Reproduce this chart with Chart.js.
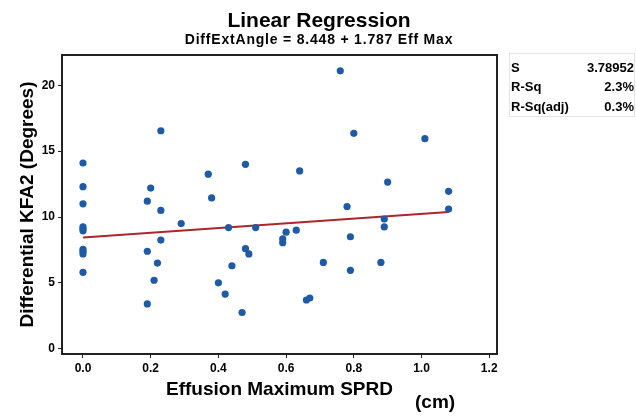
<!DOCTYPE html>
<html lang="en">
<head>
<meta charset="UTF-8">
<title>Linear Regression</title>
<script src="https://cdn.jsdelivr.net/npm/chart.js"></script>
<style>
    html, body { margin: 0; padding: 0; background: #fff; }
    #wrap { width: 636px; height: 417px; }
</style>
</head>
<body>
<div id="wrap"><canvas id="chart" width="636" height="417"></canvas></div>
<script>
// Effusion Maximum SPRD (cm)
const effMax = [
    0, 0, 0, 0, 0, 0, 0, 0, 0, 0,
    0.19, 0.19, 0.19, 0.20, 0.21, 0.22, 0.23, 0.23, 0.23, 0.29,
    0.37, 0.38, 0.40, 0.42, 0.43, 0.44, 0.47, 0.48, 0.48, 0.49,
    0.51, 0.59, 0.59, 0.60, 0.63, 0.64, 0.66, 0.67, 0.71, 0.76,
    0.78, 0.79, 0.79, 0.80, 0.88, 0.89, 0.89, 0.90, 1.01, 1.08, 1.08
];
// Differential KFA2 (degrees)
const diffAngle = [
    14.1, 12.3, 11.0, 9.25, 9.1, 8.95, 7.55, 7.4, 7.2, 5.8,
    11.2, 7.4, 3.4, 12.2, 5.2, 6.5, 16.55, 10.5, 8.25, 9.5,
    13.25, 11.45, 5.0, 4.15, 9.2, 6.3, 2.75, 14.0, 7.6, 7.2,
    9.2, 8.35, 8.05, 8.85, 9.0, 13.5, 3.7, 3.85, 6.55, 21.1,
    10.8, 8.5, 5.95, 16.35, 6.55, 9.85, 9.25, 12.65, 15.95, 11.95, 10.6
];

const intercept = 8.448;
const slope = 1.787;
const fitX = [0, 1.08];

const statLabels = ["S", "R-Sq", "R-Sq(adj)"];
const statValues = ["3.78952", "2.3%", "0.3%"];

const FONT = "'Liberation Sans', Arial, sans-serif";

// frame, titles, stats box and the loose "(cm)" label
const extras = {
    id: 'extras',
    beforeDatasetsDraw(chart) {
        const { ctx, chartArea: a } = chart;
        ctx.save();
        ctx.strokeStyle = '#222';
        ctx.lineWidth = 2;
        ctx.strokeRect(a.left, a.top, a.right - a.left, a.bottom - a.top);
        ctx.restore();
    },
    afterDraw(chart) {
        const { ctx } = chart;
        ctx.save();
        ctx.fillStyle = '#000';
        ctx.textBaseline = 'alphabetic';
        ctx.textAlign = 'center';
        ctx.font = 'bold 21px ' + FONT;
        ctx.fillText('Linear Regression', 319, 27);
        ctx.font = 'bold 14px ' + FONT;
        ctx.letterSpacing = '0.8px';
        ctx.fillText('DiffExtAngle = 8.448 + 1.787 Eff Max', 319, 44);
        ctx.letterSpacing = '0px';

        ctx.strokeStyle = '#e4e4e4';
        ctx.lineWidth = 1;
        ctx.strokeRect(509.5, 53.5, 125, 63);
        ctx.font = 'bold 13px ' + FONT;
        ctx.textBaseline = 'middle';
        statLabels.forEach((s, i) => {
            const y = 68 + i * 19.5;
            ctx.textAlign = 'left';
            ctx.fillText(s, 511, y);
            ctx.textAlign = 'right';
            ctx.fillText(statValues[i], 634, y);
        });
        ctx.font = 'bold 19px ' + FONT;
        ctx.textAlign = 'left';
        ctx.fillText('(cm)', 415, 403);
        ctx.restore();
    }
};

const ctx = document.getElementById('chart').getContext('2d');
new Chart(ctx, {
    type: 'scatter',
    data: {
        datasets: [
            {
                type: 'line',
                label: 'Fit',
                data: fitX.map(x => ({ x: x, y: intercept + slope * x })),
                borderColor: '#a8282d',
                borderWidth: 2,
                pointRadius: 0,
                fill: false,
                order: 2
            },
            {
                label: 'Data',
                data: effMax.map((x, i) => ({ x: x, y: diffAngle[i] })),
                backgroundColor: '#1f5aa6',
                borderColor: '#1f5aa6',
                pointRadius: 3.6,
                borderWidth: 0,
                order: 1
            }
        ]
    },
    options: {
        responsive: false,
        animation: false,
        layout: { padding: { top: 55, right: 139, bottom: 0, left: 0 } },
        plugins: {
            legend: { display: false },
            tooltip: { enabled: false },
            title: { display: false },
            subtitle: { display: false }
        },
        scales: {
            x: {
                type: 'linear',
                min: -0.062,
                max: 1.223,
                afterFit(scale) { scale.height = 63; },
                ticks: {
                    stepSize: 0.2,
                    includeBounds: false,
                    color: '#000',
                    font: { family: FONT, size: 12, weight: 'bold' },
                    padding: 3,
                    callback: v => v.toFixed(1)
                },
                grid: { drawOnChartArea: false, drawTicks: true, tickLength: 4, color: '#222' },
                border: { display: false },
                title: {
                    display: true,
                    text: 'Effusion Maximum SPRD',
                    color: '#000',
                    font: { family: FONT, size: 19, weight: 'bold' },
                    padding: { top: 4, bottom: 16 }
                }
            },
            y: {
                type: 'linear',
                min: -0.4,
                max: 22.3,
                afterFit(scale) { scale.width = 62; },
                ticks: {
                    stepSize: 5,
                    includeBounds: false,
                    color: '#000',
                    font: { family: FONT, size: 12, weight: 'bold' },
                    padding: 3
                },
                grid: { drawOnChartArea: false, drawTicks: true, tickLength: 4, color: '#222' },
                border: { display: false },
                title: {
                    display: true,
                    text: 'Differential KFA2 (Degrees)',
                    color: '#000',
                    font: { family: FONT, size: 19, weight: 'bold' },
                    padding: { top: 16, bottom: 4 }
                }
            }
        }
    },
    plugins: [extras]
});
</script>
</body>
</html>
